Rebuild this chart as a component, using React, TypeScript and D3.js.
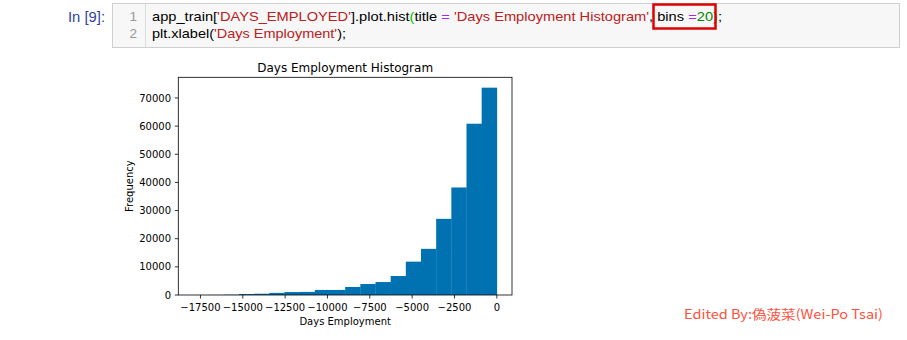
import React from "react";
import * as d3 from "d3";

// ---- data ----
const binMin = -17912;
const binMax = 0;
const binCounts = [10, 30, 100, 350, 450, 750, 1050, 1100, 1800, 1800, 2850, 3900, 4600, 6750, 11850, 16400, 27050, 38200, 60850, 73660];
const xTicks = [-17500, -15000, -12500, -10000, -7500, -5000, -2500, 0];
const yTicks = [0, 10000, 20000, 30000, 40000, 50000, 60000, 70000];
const title = "Days Employment Histogram";
const xLabel = "Days Employment";
const yLabel = "Frequency";

const codeLine1 = [
  { t: "app_train[", c: "#000" },
  { t: "'DAYS_EMPLOYED'", c: "#BA2121" },
  { t: "].plot.hist", c: "#000" },
  { t: "(", c: "#00bb00" },
  { t: "title ", c: "#000" },
  { t: "=", c: "#AA22FF" },
  { t: " ", c: "#000" },
  { t: "'Days Employment Histogram'", c: "#BA2121" },
  { t: ", bins ", c: "#000" },
  { t: "=", c: "#AA22FF" },
  { t: "20", c: "#008800" },
  { t: ")", c: "#00bb00" },
  { t: ";", c: "#000" },
];
const codeLine2 = [
  { t: "plt.xlabel(", c: "#000" },
  { t: "'Days Employment'", c: "#BA2121" },
  { t: ");", c: "#000" },
];

export default function App() {
  const W = 907, H = 340;
  const left = 178.3, right = 512, top = 77.3, bottom = 295;
  const span = binMax - binMin;
  const x = d3.scaleLinear().domain([binMin - span * 0.05, binMax + span * 0.05]).range([left, right]);
  const y = d3.scaleLinear().domain([0, (d3.max(binCounts) as number) * 1.05]).range([bottom, top]);
  const bw = span / binCounts.length;
  const fmt = (v: number) => (v < 0 ? "\u2212" + Math.abs(v) : String(v));
  const mpl = "DejaVu Sans";
  const codeFont = "'Liberation Sans', Arial, sans-serif";
  return (
    <svg width={W} height={H} style={{ position: "absolute", left: 0, top: 0, background: "#fff" }}>
      {/* code cell */}
      <text x={68} y={21.5} fontFamily={codeFont} fontSize={14} fill="#303F9F" textLength={37} lengthAdjust="spacingAndGlyphs">In [9]:</text>
      <rect x={112.5} y={3.5} width={787} height={44} fill="#f7f7f7" stroke="#cfcfcf" strokeWidth={1} />
      <line x1={145.5} x2={145.5} y1={4} y2={47} stroke="#ddd" />
      <text x={137} y={21} textAnchor="end" fontFamily={codeFont} fontSize={13.5} fill="#999">1</text>
      <text x={137} y={37.5} textAnchor="end" fontFamily={codeFont} fontSize={13.5} fill="#999">2</text>
      <text x={152} y={21} fontFamily={codeFont} fontSize={13.5} textLength={570} lengthAdjust="spacingAndGlyphs" style={{ whiteSpace: "pre" }}>
        {codeLine1.map((s, i) => (
          <tspan key={i} fill={s.c}>{s.t}</tspan>
        ))}
      </text>
      <text x={152} y={37.5} fontFamily={codeFont} fontSize={13.5} textLength={194} lengthAdjust="spacingAndGlyphs" style={{ whiteSpace: "pre" }}>
        {codeLine2.map((s, i) => (
          <tspan key={i} fill={s.c}>{s.t}</tspan>
        ))}
      </text>
      <rect x={653.5} y={4.5} width={62} height={24} fill="none" stroke="#e00000" strokeWidth={2.5} />

      {/* bars */}
      {binCounts.map((c, i) => {
        const x0 = x(binMin + i * bw);
        const x1 = x(binMin + (i + 1) * bw);
        return <rect key={i} x={x0} y={y(c)} width={x1 - x0 + 0.3} height={bottom - y(c)} fill="#0072B2" />;
      })}

      {/* spines */}
      <rect x={left} y={top} width={right - left} height={bottom - top} fill="none" stroke="#000" strokeWidth={0.8} />

      {/* x ticks */}
      {xTicks.map((t) => (
        <g key={t}>
          <line x1={x(t)} x2={x(t)} y1={bottom} y2={bottom + 3.5} stroke="#000" strokeWidth={0.8} />
          <text x={x(t)} y={311} textAnchor="middle" fontFamily={mpl} fontSize={10} fill="#000">{fmt(t)}</text>
        </g>
      ))}
      {/* y ticks */}
      {yTicks.map((t) => (
        <g key={t}>
          <line x1={left - 3.5} x2={left} y1={y(t)} y2={y(t)} stroke="#000" strokeWidth={0.8} />
          <text x={171} y={y(t) + 3.6} textAnchor="end" fontFamily={mpl} fontSize={10} fill="#000">{fmt(t)}</text>
        </g>
      ))}

      <text x={(left + right) / 2} y={72} textAnchor="middle" fontFamily={mpl} fontSize={12} fill="#000">{title}</text>
      <text x={(left + right) / 2} y={325} textAnchor="middle" fontFamily={mpl} fontSize={10} fill="#000">{xLabel}</text>
      <text transform={`translate(133,${(top + bottom) / 2}) rotate(-90)`} textAnchor="middle" fontFamily={mpl} fontSize={10} fill="#000">{yLabel}</text>

      {/* watermark */}
      <text x={684} y={318.5} fontFamily="'Noto Sans CJK TC', 'Noto Sans CJK SC', sans-serif" fontSize={13} fill="#ff5040" textLength={199} lengthAdjust="spacingAndGlyphs">Edited By:偽菠菜(Wei-Po Tsai)</text>
    </svg>
  );
}
